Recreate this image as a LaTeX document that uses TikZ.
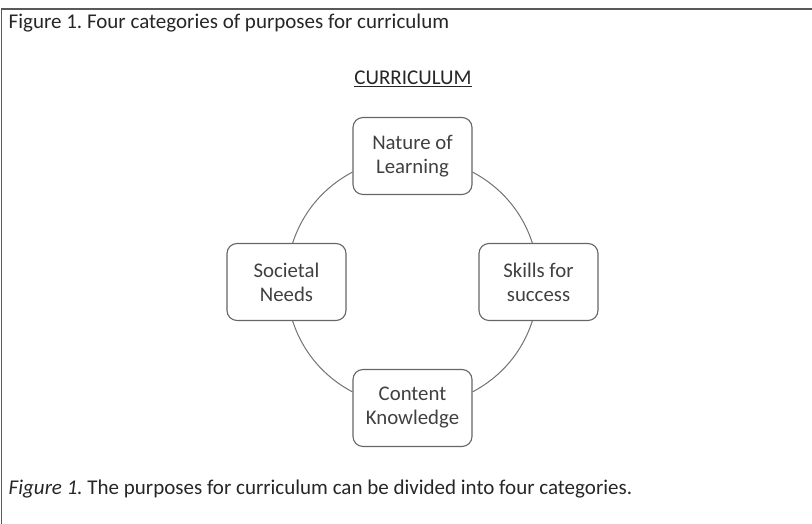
\documentclass[tikz,border=0pt]{standalone}
\usepackage{fontspec}
\setmainfont{Carlito}
\frenchspacing
\begin{document}
\begin{tikzpicture}[x=1pt,y=1pt,node distance=126pt,thick,
    main node/.style={rectangle,rounded corners=10pt,draw=black!60,line width=1.1pt,
        minimum width=119pt,minimum height=77pt,align=center,text=black!75,
        font=\fontsize{20.8}{24}\selectfont},
    txt/.style={anchor=base west,text=black!85,font=\fontsize{21}{24}\selectfont}]
    \useasboundingbox (0,0) rectangle (812,524);
    \draw[black!65,line width=1.6pt] (812,515) -- (1.5,515) -- (1.5,0);

    \node[txt] (title) at (5,495) {Figure 1. Four categories of purposes for curriculum};
    \node[txt,anchor=base] (head) at (413,439) {\underline{CURRICULUM}};

    \coordinate (c) at (412.5,242);
    \node[main node] (nature) [above of=c] {Nature of\\Learning};
    \node[main node] (skills) [right of=c] {Skills for\\success};
    \node[main node] (content) [below of=c] {Content\\Knowledge};
    \node[main node] (societal) [left of=c] {Societal\\Needs};

    \path[every edge/.style={draw=black!55,line width=1pt,looseness=0.9}]
        (nature.-15) edge[out=-28,in=108] (skills.99)
        (skills.-99) edge[out=-108,in=28] (content.15)
        (content.165) edge[out=152,in=-72] (societal.-81)
        (societal.81) edge[out=72,in=-152] (nature.195)
        ;

    \node[txt] (caption) at (5,29) {\textit{Figure 1.} The purposes for curriculum can be divided into four categories.};
\end{tikzpicture}
\end{document}
